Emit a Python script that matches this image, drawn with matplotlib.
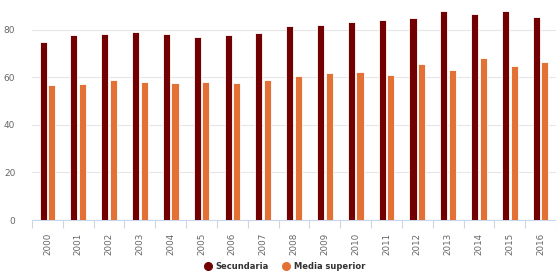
import matplotlib.pyplot as plt
import numpy as np

years = ["2000", "2001", "2002", "2003", "2004", "2005", "2006", "2007", "2008",
         "2009", "2010", "2011", "2012", "2013", "2014", "2015", "2016"]
secundaria = [74.9, 77.8, 78.3, 79.0, 78.3, 76.8, 78.0, 78.6, 81.4,
              82.1, 83.2, 83.9, 84.8, 87.9, 86.6, 87.9, 85.5]
media_superior = [56.7, 57.1, 58.9, 58.1, 57.8, 58.1, 57.8, 58.7, 60.5,
                  61.8, 62.2, 61.1, 65.5, 63.0, 68.1, 64.6, 66.5]
yticks = [0, 20, 40, 60, 80]

c_sec = "#730000"
c_med = "#e37035"

fig = plt.figure(figsize=(5.56, 2.71), dpi=100)
ax = fig.add_axes([0.0576, 0.188, 0.9424, 0.79])

x = np.arange(len(years))
ax.bar(x - 0.14, secundaria, width=0.23, color=c_sec, edgecolor="white", linewidth=0.6, zorder=3)
ax.bar(x + 0.14, media_superior, width=0.23, color=c_med, edgecolor="white", linewidth=0.6, zorder=3)

ax.set_xlim(-0.5, len(years) - 0.5)
ax.set_ylim(0, 90)
ax.set_yticks(yticks)
ax.set_yticklabels([str(v) for v in yticks], fontsize=6.5, color="#666666")
ax.tick_params(axis="y", length=0, pad=12)
ax.grid(axis="y", color="#e6e6e6", linewidth=0.8, zorder=0)

ax.set_xticks(x)
ax.set_xticklabels(years, rotation=90, fontsize=6.3, color="#666666")
ax.tick_params(axis="x", which="major", length=0, pad=9)
ax.set_xticks(np.arange(len(years) + 1) - 0.5, minor=True)
ax.tick_params(axis="x", which="minor", length=6, color="#ccd6eb", width=0.8)

for s in ["top", "right", "left"]:
    ax.spines[s].set_visible(False)
ax.spines["bottom"].set_color("#ccd6eb")
ax.spines["bottom"].set_linewidth(0.8)

# legend
fig.legend(handles=[
    plt.Line2D([], [], marker="o", linestyle="", color=c_sec, markersize=5.5, label="Secundaria"),
    plt.Line2D([], [], marker="o", linestyle="", color=c_med, markersize=5.5, label="Media superior"),
], loc="center", bbox_to_anchor=(0.512, 0.018), ncol=2, frameon=False,
    prop={"size": 6.0, "weight": "bold"}, labelcolor="#333333",
    handlelength=1.0, handletextpad=0.45, columnspacing=1.6, borderpad=0, borderaxespad=0)

fig.savefig("out.png", dpi=100)
